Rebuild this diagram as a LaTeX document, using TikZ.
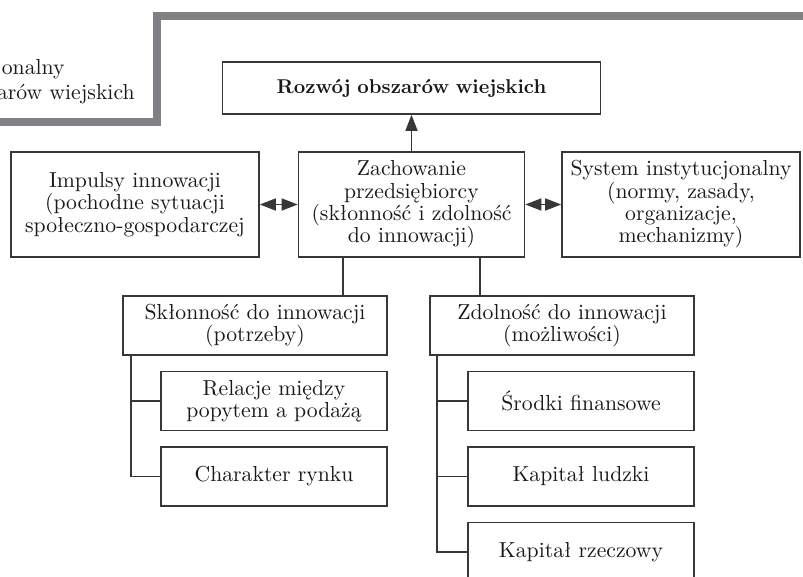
\documentclass[tikz,border=0pt]{standalone}
\usepackage{tikz}
\usetikzlibrary{arrows.meta,calc}
\definecolor{framegray}{RGB}{128,129,133}
\definecolor{linegray}{RGB}{55,55,55}

\begin{document}
\begin{tikzpicture}[x=0.5pt, y=-0.5pt, node distance=37.75pt,
            box/.style={draw=linegray, line width=0.8pt, rectangle, inner sep=0pt, align=center, text width=113pt, minimum height=29.5pt, text=black!90, font=\fontsize{10.85}{11.15}\selectfont},
            link/.style={draw=linegray, line width=0.8pt},
            arrow/.style={link, -{Triangle[length=8pt,width=6pt]}},
            both/.style={link, {Triangle[length=8pt,width=6pt]}-{Triangle[length=8pt,width=6pt]}}]
            \useasboundingbox (0,0) rectangle (803,577);
            \clip (0,0) rectangle (803,577);
            \draw[framegray, line width=4pt] (-10,122) -- (157,122) -- (157,16) -- (815,16);
            \node[anchor=base east, inner sep=0pt, text=black!90, font=\fontsize{10.85}{11.15}\selectfont] (CutTop) at (65,75) {onalny};
            \node[anchor=base east, inner sep=0pt, text=black!90, font=\fontsize{10.85}{11.15}\selectfont] (CutBottom) at (135,100) {arów wiejskich};
            \node[box, text width=113pt, minimum height=52.5pt] (Zachowanie) at (411.5,204.5) {Zachowanie\\przedsiębiorcy\\(skłonność i zdolność\\do innowacji)};
            \node[box, text width=189pt, minimum height=26pt, font=\fontsize{10}{11}\selectfont\bfseries] (Rozwoj) at (411.5,88) {Rozwój obszarów wiejskich};
            \node[box, text width=124pt, minimum height=52.5pt] (Impulsy) at (135,204.5) {Impulsy innowacji\\(pochodne sytuacji\\społeczno-gospodarczej};
            \node[box, text width=119pt, minimum height=52.5pt] (System) at (681,204.5) {System instytucjonalny\\(normy, zasady,\\organizacje,\\mechanizmy)};
            \node[box, text width=132pt] (Sklonnosc) at (255,325.5) {Skłonność do innowacji\\(potrzeby)};
            \node[box, text width=132pt] (Zdolnosc) at (562,325.5) {Zdolność do innowacji\\(możliwości)};
            \node[box, below of=Sklonnosc, xshift=9.5pt] (Relacje) {Relacje między\\popytem a podażą};
            \node[box, below of=Relacje] (Rynek) {Charakter rynku};
            \node[box, below of=Zdolnosc, xshift=9.5pt] (Srodki) {Środki finansowe};
            \node[box, below of=Srodki] (Ludzki) {Kapitał ludzki};
            \node[box, below of=Ludzki] (Rzeczowy) {Kapitał rzeczowy};
            \coordinate (Zl) at ($(Zachowanie.south west)!.2!(Zachowanie.south east)$);
            \coordinate (Zr) at ($(Zachowanie.south west)!.8!(Zachowanie.south east)$);
            \coordinate (Sl) at ([xshift=4.5pt]Sklonnosc.south west);
            \coordinate (Dl) at ([xshift=4pt]Zdolnosc.south west);
            \draw[arrow] (Zachowanie.north) -- (Rozwoj.south);
            \draw[both] (Impulsy.east) -- (Zachowanie.west);
            \draw[both] (Zachowanie.east) -- (System.west);
            \draw[link] (Zl) -- (Zl |- Sklonnosc.north);
            \draw[link] (Zr) -- (Zr |- Zdolnosc.north);
            \draw[link] (Sl) |- (Rynek.west);
            \draw[link] (Sl |- Relacje.west) -- (Relacje.west);
            \draw[link] (Dl) |- (Rzeczowy.west);
            \draw[link] (Dl |- Srodki.west) -- (Srodki.west);
            \draw[link] (Dl |- Ludzki.west) -- (Ludzki.west);
            \end{tikzpicture}
\end{document}
